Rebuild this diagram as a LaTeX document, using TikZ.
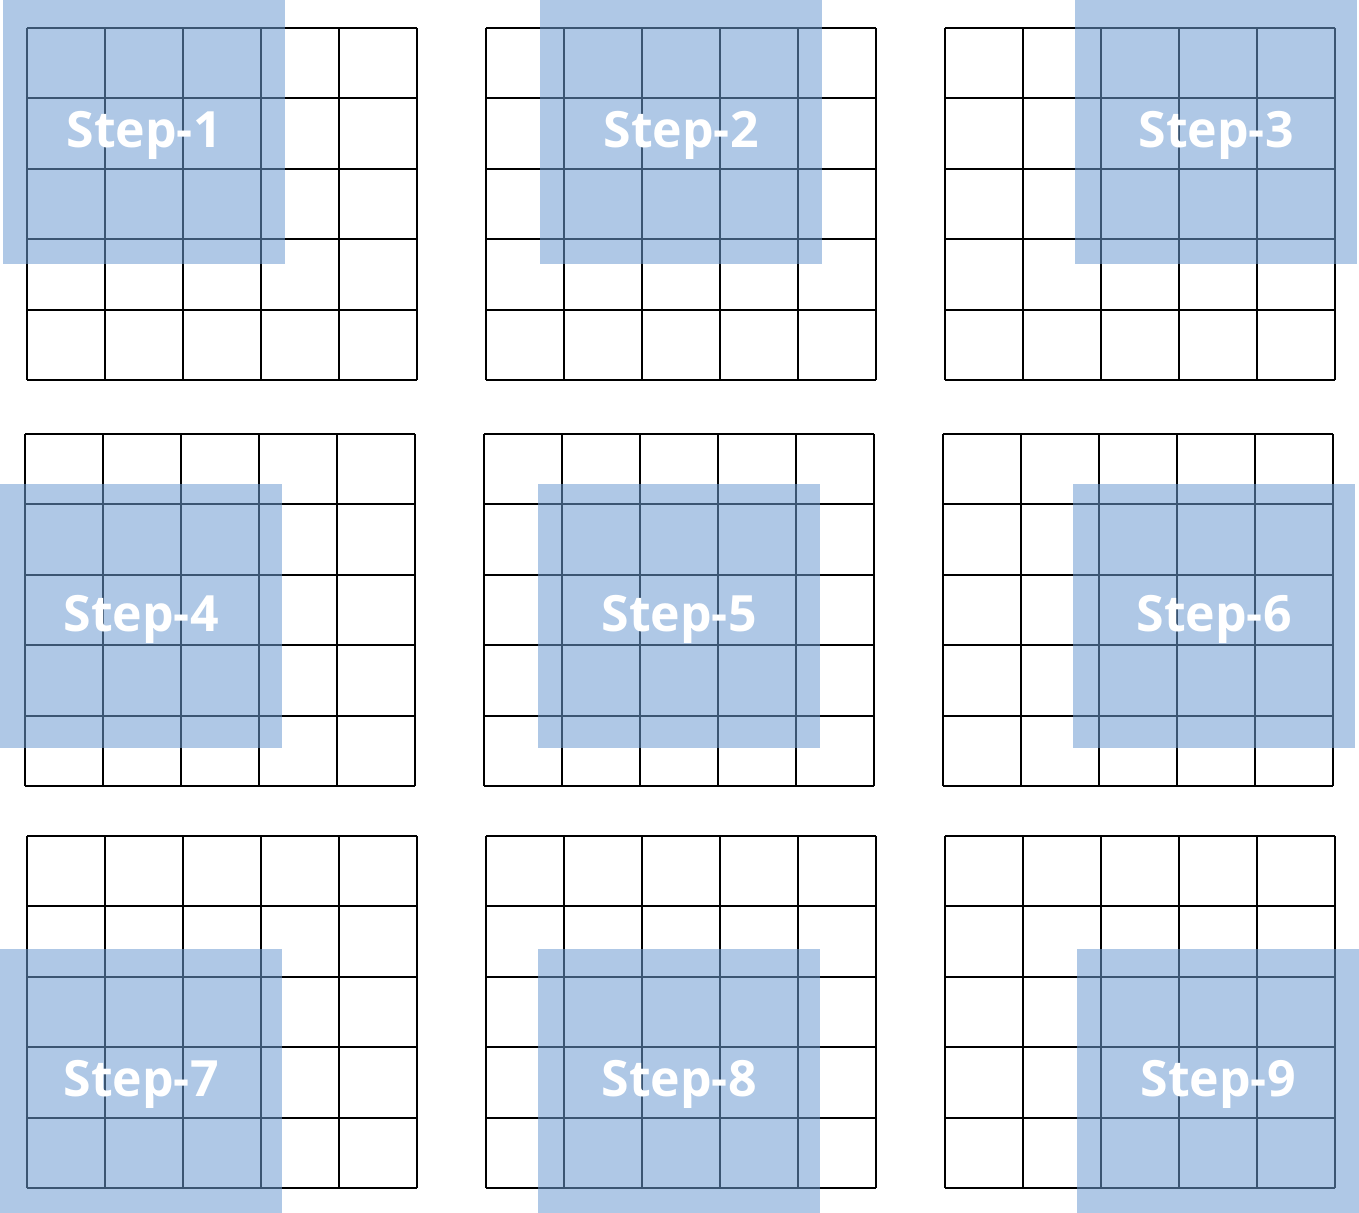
\documentclass[tikz,border=0pt]{standalone}
\usepackage{fontspec}
\newfontfamily\stepfont{Open Sans}
\usepackage{tikz}
\usetikzlibrary{positioning}
\definecolor{winblue}{RGB}{109,155,209}

\begin{document}
\begin{tikzpicture}[
    x=0.5pt, y=0.5pt,
    board/.style={xstep=39pt, ystep=35.2pt, line width=0.95pt, black},
    window/.style={rectangle, fill=winblue, fill opacity=0.55, text opacity=1, text=white,
                   minimum width=141pt, minimum height=132pt, inner sep=0pt, text depth=3pt,
                   font=\stepfont\bfseries\fontsize{25}{27}\selectfont}
]
\useasboundingbox (0,0) rectangle (1359,1213);
% the nine 5x5 boards
\draw[board, shift={(27,833)}]  (0,0) grid (390.4,352.4);
\draw[board, shift={(486,833)}] (0,0) grid (390.4,352.4);
\draw[board, shift={(945,833)}] (0,0) grid (390.4,352.4);
\draw[board, shift={(25,427)}]  (0,0) grid (390.4,352.4);
\draw[board, shift={(484,427)}] (0,0) grid (390.4,352.4);
\draw[board, shift={(943,427)}] (0,0) grid (390.4,352.4);
\draw[board, shift={(27,25)}]   (0,0) grid (390.4,352.4);
\draw[board, shift={(486,25)}]  (0,0) grid (390.4,352.4);
\draw[board, shift={(945,25)}]  (0,0) grid (390.4,352.4);
% sliding 3x3 windows
\node[window] (s1) at (144,1081)  {Step-1};
\node[window] (s2) at (681,1081)  {Step-2};
\node[window] (s3) at (1216,1081) {Step-3};
\node[window] (s4) at (141,597)   {Step-4};
\node[window] (s5) at (679,597)   {Step-5};
\node[window] (s6) at (1214,597)  {Step-6};
\node[window] (s7) at (141,132)   {Step-7};
\node[window] (s8) at (679,132)   {Step-8};
\node[window] (s9) at (1218,132)  {Step-9};
\end{tikzpicture}
\end{document}
